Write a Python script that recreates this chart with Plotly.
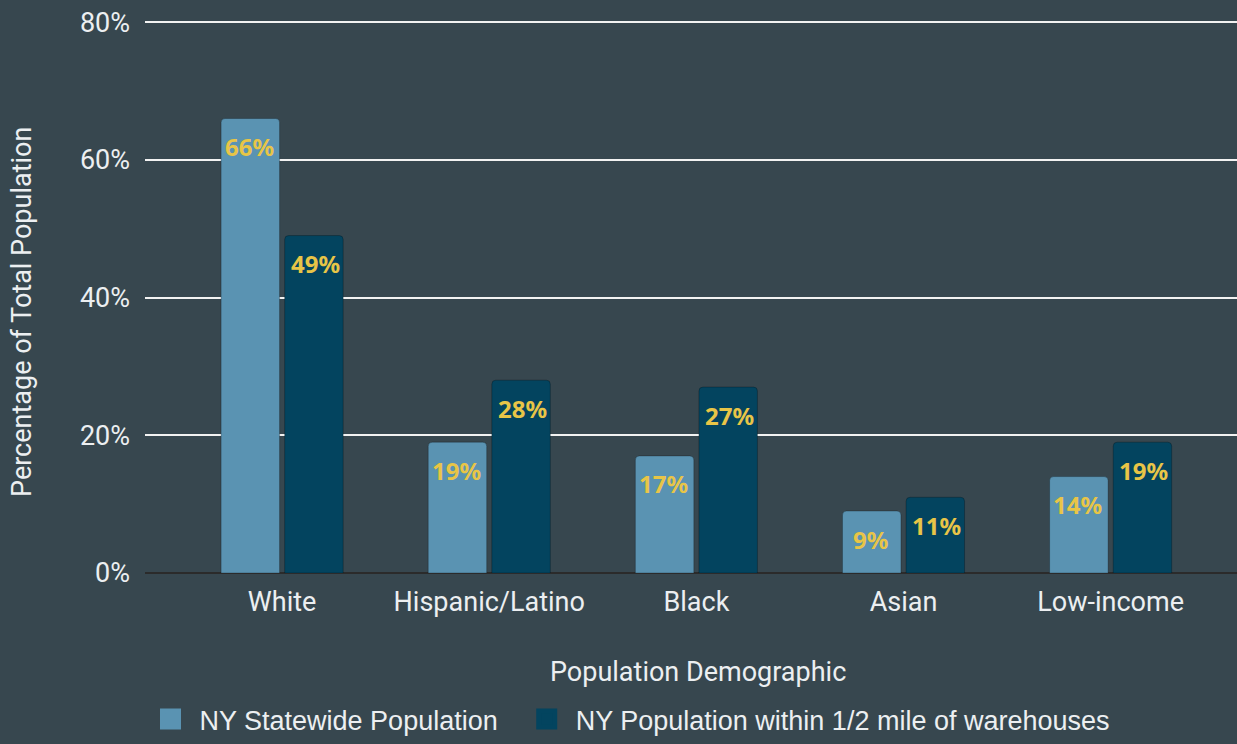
import plotly.graph_objects as go

categories = ["White", "Hispanic/Latino", "Black", "Asian", "Low-income"]
statewide = [66, 19, 17, 9, 14]
warehouse = [49, 28, 27, 11, 19]
series_names = ["NY Statewide Population", "NY Population within 1/2 mile of warehouses"]
y_ticks = [0, 20, 40, 60, 80]
y_tick_labels = ["0%", "20%", "40%", "60%", "80%"]
x_title = "Population Demographic"
y_title = "Percentage of Total Population"

BG = "#37474f"
LIGHT = "#5a93b2"
DARK = "#03445f"
GOLD = "#e8c547"
TXT = "#eceff1"

fig = go.Figure()
legend_names = [series_names[0] + "\u00a0\u00a0", series_names[1]]
for name, lname, vals, col in [(series_names[0], legend_names[0], statewide, LIGHT),
                               (series_names[1], legend_names[1], warehouse, DARK)]:
    fig.add_trace(go.Bar(
        x=categories, y=vals, name=name, showlegend=False,
        marker=dict(color=col, line=dict(color="rgba(0,0,0,0.25)", width=1)),
        hoverinfo="skip",
    ))
    fig.add_trace(go.Scatter(
        x=[None], y=[None], mode="markers", name=lname, showlegend=True,
        marker=dict(symbol="square", size=16, color=col, line=dict(color=col, width=5)),
    ))

for vals, shift in [(statewide, -33), (warehouse, 33)]:
    for c, v in zip(categories, vals):
        fig.add_annotation(
            x=c, y=v, xref="x", yref="y", text=f"<b>{v}%</b>", showarrow=False,
            xshift=shift, yshift=-28, yanchor="middle",
            font=dict(family="Noto Sans", size=24, color=GOLD),
        )

# axis titles as annotations (slightly off-centre as in the reference)
fig.add_annotation(x=0.5, y=-0.179, xref="paper", yref="paper", text=x_title,
                   showarrow=False, xshift=7, yanchor="middle",
                   font=dict(family="Roboto", size=27, color=TXT))
fig.add_annotation(x=0, y=0.472, xref="paper", yref="paper", text=y_title,
                   showarrow=False, xshift=-123, textangle=-90,
                   xanchor="center", yanchor="middle",
                   font=dict(family="Roboto", size=27, color=TXT))

fig.update_layout(
    width=1237, height=744,
    paper_bgcolor=BG, plot_bgcolor=BG,
    margin=dict(l=145, r=0, t=20, b=171),
    barmode="group", bargap=0.386, bargroupgap=0.08, barcornerradius=4,
    font=dict(family="Roboto", color=TXT, size=27),
    xaxis=dict(
        range=[-0.662, 4.61], showgrid=False, zeroline=False, showline=False,
        tickfont=dict(family="Roboto", size=27, color=TXT), ticks="", ticklabelstandoff=10,
    ),
    yaxis=dict(
        range=[0, 80.3], tickvals=y_ticks, ticktext=y_tick_labels,
        showgrid=True, gridcolor="#f2f2f2", gridwidth=1.5,
        zeroline=True, zerolinecolor="#2b2b2b", zerolinewidth=2, showline=False,
        tickfont=dict(family="Roboto", size=27, color=TXT), ticks="", ticklabelstandoff=14,
    ),
    legend=dict(
        orientation="h", xref="container", yref="container",
        x=0.1144, xanchor="left", y=-0.012, yanchor="bottom",
        font=dict(family="Liberation Sans", size=27, color=TXT),
        bgcolor="rgba(0,0,0,0)", itemwidth=48,
    ),
)

fig.write_html("out.html", post_script="document.body.style.margin='0';",
               config={"displayModeBar": False})
